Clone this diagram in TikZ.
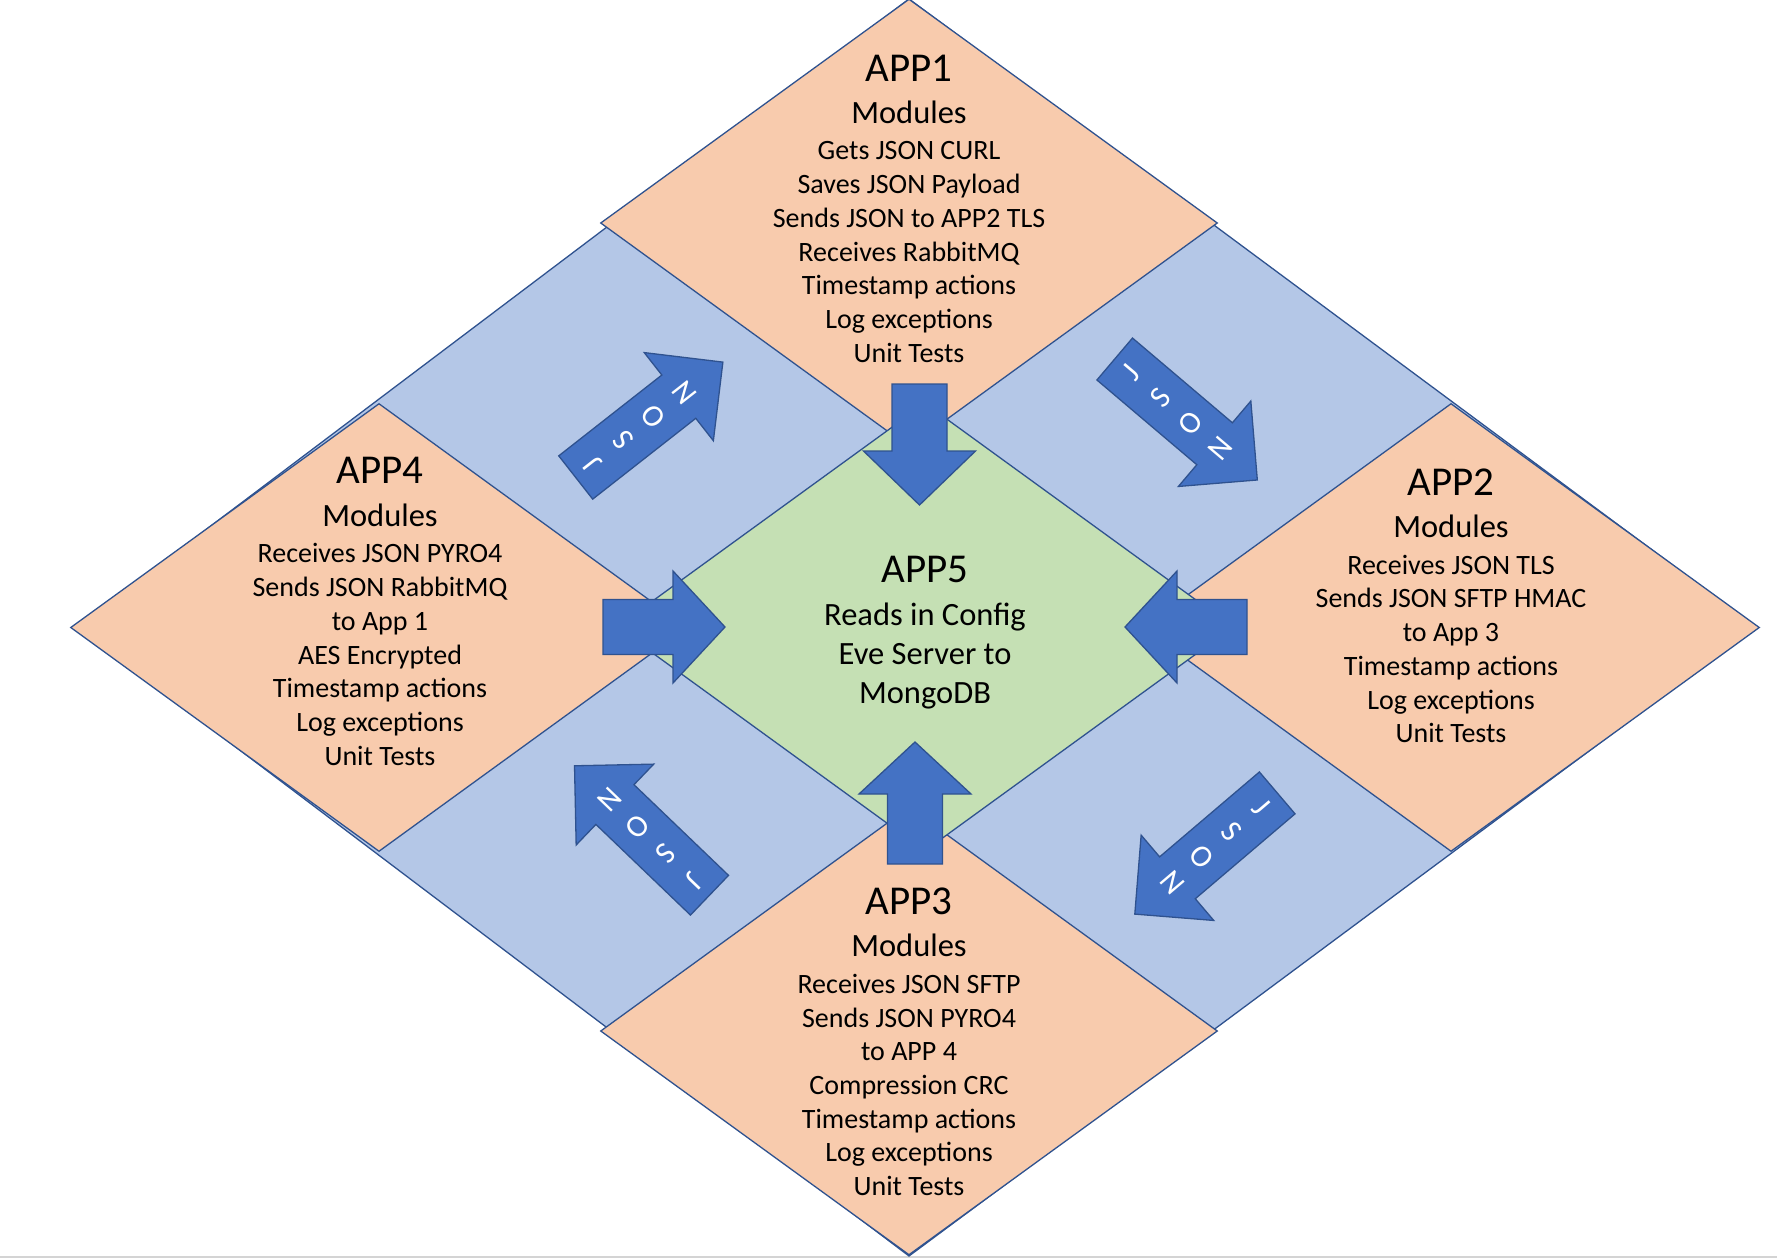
\documentclass[tikz,border=0pt]{standalone}
\usepackage{fontspec}
\setmainfont{Carlito}
\usetikzlibrary{shapes.geometric}
\definecolor{bgblue}{HTML}{B4C7E7}
\definecolor{peach}{HTML}{F8CBAD}
\definecolor{lgreen}{HTML}{C5E0B4}
\definecolor{arrowblue}{HTML}{4472C4}
\definecolor{edgeblue}{HTML}{2F528F}
\definecolor{pageline}{HTML}{D4D4D4}
\tikzset{
  appbox/.style={diamond, draw=edgeblue, line width=1.3pt, fill=peach,
    minimum width=617pt, minimum height=448pt, inner sep=0pt},
  centerbox/.style={appbox, fill=lgreen},
  blockarrow/.style={fill=arrowblue, draw=edgeblue, line width=1.3pt, line join=miter},
  apptitle/.style={font=\fontsize{41}{48}\selectfont, inner sep=0pt},
  appbody/.style={align=center, font=\fontsize{28}{33.7}\selectfont, inner sep=0pt},
  centerbody/.style={align=center, font=\fontsize{32.5}{39}\selectfont, inner sep=0pt},
  jsontext/.style={align=center, text=white, font=\fontsize{31}{39}\selectfont, inner sep=0pt}
}
\newcommand\Mod{{\fontsize{32.5}{33.7}\selectfont Modules}}
% #1 cx, #2 cy, #3 angle, #4 length, #5 head length
\newcommand\BlockArrow[5]{%
  \draw[blockarrow,shift={(#1,#2)},rotate=#3]
    (-#4/2,-27.5) -- ({#4/2-#5},-27.5) -- ({#4/2-#5},-56) -- (#4/2,0)
    -- ({#4/2-#5},56) -- ({#4/2-#5},27.5) -- (-#4/2,27.5) -- cycle;}
\begin{document}
\begin{tikzpicture}[x=1pt,y=-1pt]
\useasboundingbox (0,0) rectangle (1777,1260);
\fill[white] (0,0) rectangle (1777,1260);
% page edge line
\coordinate (pl) at (0,1257);
\coordinate (pr) at (1777,1257);
\draw[pageline, line width=2pt] (pl) -- (pr);
% background rhombus
\coordinate (bt) at (909,-1);
\coordinate (br) at (1756,627);
\coordinate (bb) at (909,1256);
\coordinate (bl) at (77,627);
\filldraw[fill=bgblue, draw=edgeblue, line width=1.3pt] (bt) -- (br) -- (bb) -- (bl) -- cycle;
% application diamonds
\node[appbox] (app1) at (909,223) {};
\node[appbox] (app4) at (379,627.5) {};
\node[appbox] (app2) at (1451,627.5) {};
\node[appbox] (app3) at (909,1031) {};
\node[centerbox] (app5) at (925,627) {};
% texts
\node[apptitle] (t1) at (909,68) {APP1};
\node[appbody] (b1) at (909,231.5) {\Mod\\[3pt]Gets JSON CURL\\Saves JSON Payload\\Sends JSON to APP2 TLS\\Receives RabbitMQ\\Timestamp actions\\Log exceptions\\Unit Tests};
\node[apptitle] (t4) at (380,470) {APP4};
\node[appbody] (b4) at (380,634.5) {\Mod\\[3pt]Receives JSON PYRO4\\Sends JSON RabbitMQ\\to App 1\\AES Encrypted\\Timestamp actions\\Log exceptions\\Unit Tests};
\node[apptitle] (t2) at (1451,482) {APP2};
\node[appbody] (b2) at (1451,629) {\Mod\\[3pt]Receives JSON TLS\\Sends JSON SFTP HMAC\\to App 3\\Timestamp actions\\Log exceptions\\Unit Tests};
\node[apptitle] (t3) at (909,901) {APP3};
\node[appbody] (b3) at (909,1065) {\Mod\\[3pt]Receives JSON SFTP\\Sends JSON PYRO4\\to APP 4\\Compression CRC\\Timestamp actions\\Log exceptions\\Unit Tests};
\node[apptitle] (t5) at (925,569) {APP5};
\node[centerbody] (b5) at (925,656) {Reads in Config\\Eve Server to\\MongoDB};
% straight arrows into APP5
\BlockArrow{919.5}{444.5}{-90}{121}{54}
\BlockArrow{664}{627}{0}{122}{52}
\BlockArrow{1186}{627}{180}{122}{52}
\BlockArrow{915}{803}{90}{122}{52}
% diagonal JSON arrows
\BlockArrow{649.3}{419.8}{38.1}{187}{56}
\BlockArrow{1186}{419.5}{-40.3}{187}{56}
\BlockArrow{1206}{853.5}{-139.6}{187}{56}
\BlockArrow{642}{830.5}{136.2}{187}{56}
\node[jsontext, rotate=128.1] (j1) at (638.3,428.4) {J\\S\\O\\N};
\node[jsontext, rotate=49.7] (j2) at (1175.3,410.4) {J\\S\\O\\N};
\node[jsontext, rotate=-49.6] (j3) at (1216.7,844.4) {J\\S\\O\\N};
\node[jsontext, rotate=226.2] (j4) at (652.1,840.2) {J\\S\\O\\N};
\end{tikzpicture}
\end{document}
